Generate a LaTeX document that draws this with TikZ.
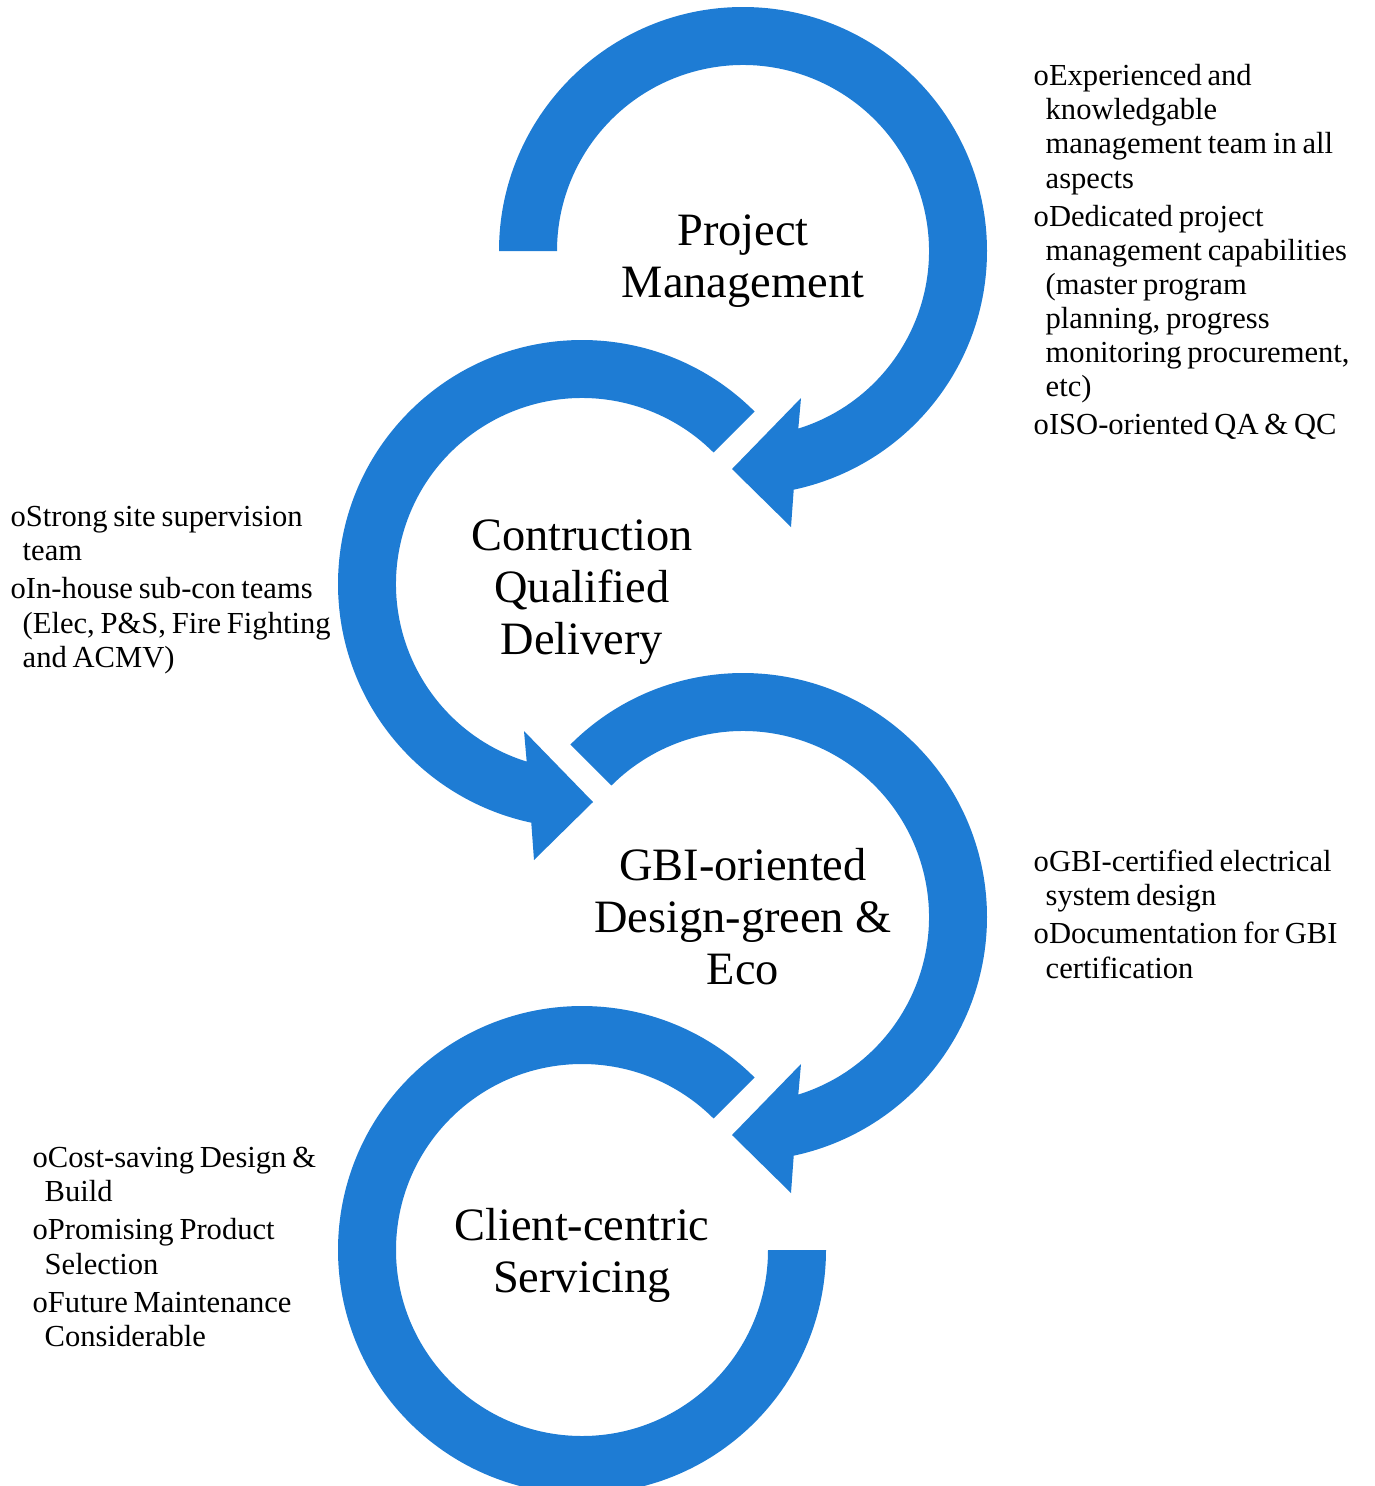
\documentclass[tikz,border=0pt]{standalone}
\usepackage{fontspec}
\setmainfont{Liberation Serif}
\definecolor{arrowblue}{RGB}{30,124,212}
\newcommand{\bitem}[1]{\par\noindent\hangindent=0.12cm\hangafter=1 o#1\par}
\begin{document}
\begin{tikzpicture}[
    ringarrow/.style={fill=arrowblue},
    steplabel/.style={align=center, font=\fontsize{13.2}{14.8}\selectfont},
    notes/.style={anchor=north west, inner sep=0pt, text width=4cm, align=left,
        font=\fontsize{8.7}{9.7}\selectfont\frenchspacing,
        execute at begin node={\setlength{\parskip}{0.04cm}\spaceskip=0.19em\relax}}
]
\useasboundingbox (0,0) rectangle (13.75,-14.86);
% \draw[help lines, step=0.5] (0,0) grid (13.75,-14.86);

\coordinate (pm) at (7.43,-2.51);
\coordinate (cq) at (5.82,-5.84);
\coordinate (gbi) at (7.43,-9.17);
\coordinate (cc) at (5.82,-12.50);

% project management, clockwise from the left
\begin{scope}[shift={(pm)}]
    \fill[ringarrow] (180:2.44) arc[start angle=180, end angle=-78, radius=2.44]
        -- (0.48,-2.76) -- (-0.11,-2.18) -- (0.58,-1.47) -- (-72.7:1.86)
        arc[start angle=-72.7, end angle=180, radius=1.86] -- cycle;
\end{scope}

% construction, same arrow mirrored
\begin{scope}[shift={(cq)}, xscale=-1]
    \fill[ringarrow] (135:2.44) arc[start angle=135, end angle=-78, radius=2.44]
        -- (0.48,-2.76) -- (-0.11,-2.18) -- (0.58,-1.47) -- (-72.7:1.86)
        arc[start angle=-72.7, end angle=135, radius=1.86] -- cycle;
\end{scope}

% gbi design
\begin{scope}[shift={(gbi)}]
    \fill[ringarrow] (135:2.44) arc[start angle=135, end angle=-78, radius=2.44]
        -- (0.48,-2.76) -- (-0.11,-2.18) -- (0.58,-1.47) -- (-72.7:1.86)
        arc[start angle=-72.7, end angle=135, radius=1.86] -- cycle;
\end{scope}

% client-centric, no head
\begin{scope}[shift={(cc)}, xscale=-1]
    \fill[ringarrow] (135:2.44) arc[start angle=135, end angle=-180, radius=2.44]
        -- (-180:1.86) arc[start angle=-180, end angle=135, radius=1.86] -- cycle;
\end{scope}

\node[steplabel, yshift=-0.10cm] (pmtext) at (pm) {Project\\Management};
\node[steplabel, yshift=-0.08cm] (cqtext) at (cq) {Contruction\\Qualified\\Delivery};
\node[steplabel] (gbitext) at (gbi) {GBI-oriented\\Design-green \&\\Eco};
\node[steplabel, yshift=-0.05cm] (cctext) at (cc) {Client-centric\\Servicing};

\node[notes] (pmnotes) at (10.33,-0.47) {%
    \bitem{Experienced and\newline knowledgable\newline management team in all\newline aspects}%
    \bitem{Dedicated project\newline management capabilities\newline (master program\newline planning, progress\newline monitoring procurement,\newline etc)}%
    \bitem{ISO-oriented QA \& QC}};
\node[notes] (cqnotes) at (0.10,-4.88) {%
    \bitem{Strong site supervision\newline team}%
    \bitem{In-house sub-con teams\newline (Elec, P\&S, Fire Fighting\newline and ACMV)}};
\node[notes] (gbinotes) at (10.33,-8.33) {%
    \bitem{GBI-certified electrical\newline system design}%
    \bitem{Documentation for GBI\newline certification}};
\node[notes] (ccnotes) at (0.32,-11.29) {%
    \bitem{Cost-saving Design \&\newline Build}%
    \bitem{Promising Product\newline Selection}%
    \bitem{Future Maintenance\newline Considerable}};
\end{tikzpicture}
\end{document}
